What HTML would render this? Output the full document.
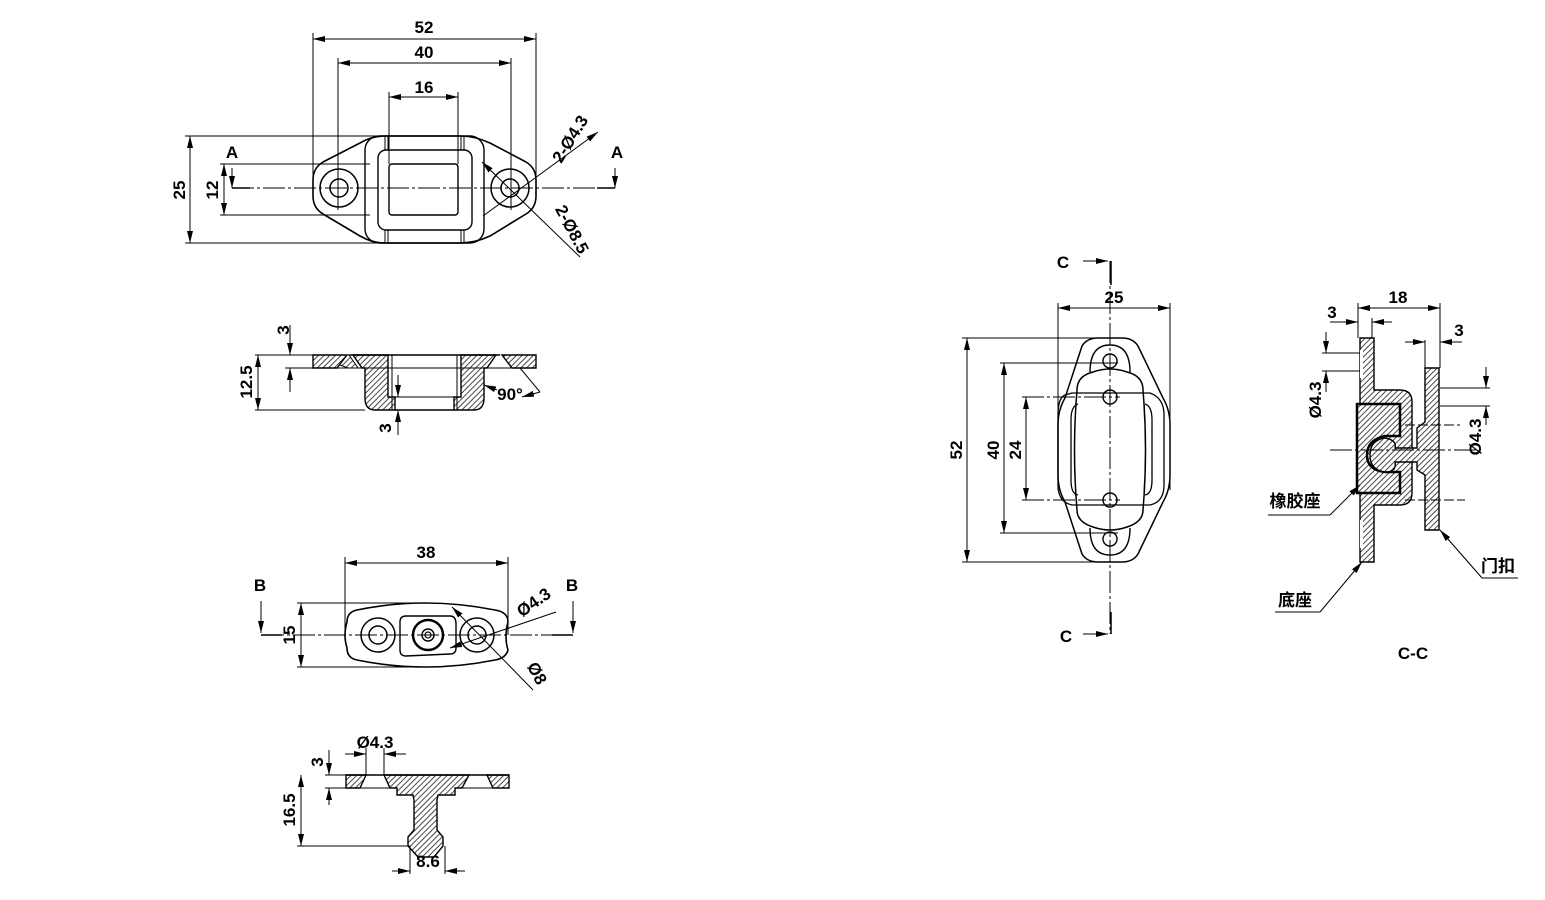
<!DOCTYPE html>
<html><head><meta charset="utf-8"><style>
html,body{margin:0;padding:0;background:#fff;}
svg{display:block}
text{font-family:"Liberation Sans Narrow","Liberation Sans","Noto Sans CJK SC",sans-serif;fill:#000;font-size:17px;font-weight:bold}
.cn{font-family:"Liberation Sans","Noto Sans CJK SC",sans-serif;font-size:17px}
</style></head><body>
<svg width="1545" height="900" viewBox="0 0 1545 900" xmlns="http://www.w3.org/2000/svg">
<defs>
<pattern id="h" width="4" height="4" patternUnits="userSpaceOnUse" patternTransform="rotate(45)">
<rect width="4" height="4" fill="#fff"/><line x1="0" y1="0" x2="0" y2="4" stroke="#333" stroke-width="1.8"/></pattern>
<marker id="a" markerWidth="12" markerHeight="6" refX="12" refY="3" orient="auto-start-reverse" markerUnits="userSpaceOnUse"><path d="M0,0 L12,3 L0,6z" fill="#000"/></marker>
</defs>
<g stroke="#000" fill="none" stroke-width="1">
<!-- ===== View 1 top plan ===== -->
<line x1="313" y1="33" x2="313" y2="188"/><line x1="536" y1="33" x2="536" y2="188"/>
<line x1="313" y1="39" x2="536" y2="39" marker-start="url(#a)" marker-end="url(#a)"/>
<line x1="338" y1="58" x2="338" y2="210"/><line x1="511" y1="58" x2="511" y2="210"/>
<line x1="338" y1="63" x2="511" y2="63" marker-start="url(#a)" marker-end="url(#a)"/>
<line x1="389" y1="92" x2="389" y2="164"/><line x1="458" y1="92" x2="458" y2="164"/>
<line x1="389" y1="97" x2="458" y2="97" marker-start="url(#a)" marker-end="url(#a)"/>
<line x1="185" y1="136" x2="380" y2="136"/><line x1="185" y1="243" x2="380" y2="243"/>
<line x1="190" y1="136" x2="190" y2="243" marker-start="url(#a)" marker-end="url(#a)"/>
<line x1="220" y1="164" x2="370" y2="164"/><line x1="220" y1="215" x2="370" y2="215"/>
<line x1="224" y1="164" x2="224" y2="215" marker-start="url(#a)" marker-end="url(#a)"/>
<path d="M385,136 L460,136 Q475,136 490,143 L526,162 Q536,168 536,180 L536,196 Q536,208 526,214 L490,236 Q475,243 460,243 L385,243 Q372,243 360,236 L323,214 Q313,208 313,196 L313,180 Q313,168 323,162 L360,143 Q372,136 385,136Z" stroke-width="1.6"/>
<rect x="365" y="136" width="119" height="107" rx="14" stroke-width="1.4"/>
<rect x="378" y="150" width="94" height="80" rx="8" stroke-width="1.4"/>
<rect x="389" y="164" width="69" height="51" rx="3" stroke-width="1.4"/>
<line x1="385" y1="136" x2="385" y2="150"/><line x1="388" y1="136" x2="388" y2="150"/>
<line x1="461" y1="136" x2="461" y2="150"/><line x1="464" y1="136" x2="464" y2="150"/>
<line x1="385" y1="230" x2="385" y2="243"/><line x1="388" y1="230" x2="388" y2="243"/>
<line x1="461" y1="230" x2="461" y2="243"/><line x1="464" y1="230" x2="464" y2="243"/>
<circle cx="339" cy="188" r="19" stroke-width="1.5"/><circle cx="339" cy="188" r="9" stroke-width="1.5"/>
<circle cx="510" cy="188" r="19" stroke-width="1.5"/><circle cx="510" cy="188" r="9" stroke-width="1.5"/>
<line x1="232" y1="188" x2="615" y2="188" stroke-dasharray="22,3,3,3"/>
<line x1="232" y1="168" x2="232" y2="188" marker-end="url(#a)"/><line x1="232" y1="188" x2="250" y2="188" stroke-width="1.5"/>
<line x1="615" y1="168" x2="615" y2="188" marker-end="url(#a)"/><line x1="597" y1="188" x2="615" y2="188" stroke-width="1.5"/>
<line x1="483" y1="216" x2="598" y2="132" marker-end="url(#a)"/>
<line x1="482" y1="162" x2="580" y2="257" marker-start="url(#a)"/>
<!-- ===== View 2 section ===== -->
<path d="M313,355 L349,355 L358,368 L348,368 Z" fill="url(#h)"/>
<path d="M313,355 L347,355 L337,368 L313,368 Z" fill="url(#h)" stroke-width="1.4"/>
<path d="M536,355 L502,355 L512,368 L536,368 Z" fill="url(#h)" stroke-width="1.4"/>
<path d="M353,355 L388,355 L388,397 L395,397 L395,410 L375,410 Q365,410 365,398 L365,368 L362,368 Z" fill="url(#h)" stroke-width="1.4"/>
<path d="M496,355 L461,355 L461,397 L454,397 L454,410 L474,410 Q484,410 484,398 L484,368 L487,368 Z" fill="url(#h)" stroke-width="1.4"/>
<line x1="395" y1="397" x2="454" y2="397"/><line x1="395" y1="410" x2="454" y2="410" stroke-width="1.4"/>
<line x1="349" y1="355" x2="500" y2="355" stroke-width="1.4"/>
<line x1="337" y1="368" x2="512" y2="368"/>
<line x1="392" y1="355" x2="392" y2="410"/><line x1="457" y1="355" x2="457" y2="410"/>
<line x1="255" y1="355" x2="313" y2="355"/><line x1="255" y1="410" x2="365" y2="410"/><line x1="285" y1="368" x2="313" y2="368"/>
<line x1="290" y1="325" x2="290" y2="355" marker-end="url(#a)"/><line x1="290" y1="368" x2="290" y2="392" marker-start="url(#a)"/>
<line x1="258" y1="355" x2="258" y2="410" marker-start="url(#a)" marker-end="url(#a)"/>
<line x1="398" y1="375" x2="398" y2="397" marker-end="url(#a)"/><line x1="398" y1="410" x2="398" y2="435" marker-start="url(#a)"/>
<line x1="484" y1="385" x2="497" y2="390" marker-start="url(#a)"/>
<line x1="520" y1="368" x2="540" y2="392"/><line x1="540" y1="392" x2="522" y2="397" marker-end="url(#a)"/>
<!-- ===== View 3 B plan ===== -->
<line x1="345" y1="557" x2="345" y2="635"/><line x1="508" y1="557" x2="508" y2="635"/>
<line x1="345" y1="563" x2="508" y2="563" marker-start="url(#a)" marker-end="url(#a)"/>
<line x1="297" y1="603" x2="420" y2="603"/><line x1="297" y1="667" x2="420" y2="667"/>
<line x1="301" y1="603" x2="301" y2="667" marker-start="url(#a)" marker-end="url(#a)"/>
<path d="M357,610 Q425,596 495,610 Q508,612 508,622 Q504,637 508,650 Q506,658 495,660 Q425,674 357,660 Q347,658 347,648 Q343,635 347,622 Q347,612 357,610Z" stroke-width="1.6"/>
<circle cx="378" cy="635" r="17" stroke-width="1.5"/><circle cx="378" cy="635" r="9" stroke-width="1.5"/>
<circle cx="477" cy="635" r="17" stroke-width="1.5"/><circle cx="477" cy="635" r="9" stroke-width="1.5"/>
<path d="M406,616 L450,616 Q456,616 456,624 L456,648 Q456,654 450,654 L406,656 Q400,656 400,650 L400,622 Q400,616 406,616Z" stroke-width="1.4"/>
<circle cx="428" cy="635" r="15" stroke-width="2.5"/><circle cx="428" cy="635" r="6" stroke-width="1.4"/><circle cx="428" cy="635" r="3" stroke-width="1.2"/>
<line x1="262" y1="635" x2="572" y2="635" stroke-dasharray="22,3,3,3"/>
<line x1="261" y1="601" x2="261" y2="633" marker-end="url(#a)"/><line x1="261" y1="635" x2="282" y2="635" stroke-width="1.5"/>
<line x1="573" y1="601" x2="573" y2="633" marker-end="url(#a)"/><line x1="552" y1="635" x2="573" y2="635" stroke-width="1.5"/>
<line x1="450" y1="648" x2="556" y2="612" marker-start="url(#a)"/>
<line x1="452" y1="607" x2="533" y2="690" marker-start="url(#a)"/>
<!-- ===== View 4 T ===== -->
<path d="M346,775 L366,775 L360,788 L346,788Z" fill="url(#h)" stroke-width="1.4"/>
<path d="M509,775 L487,775 L493,788 L509,788Z" fill="url(#h)" stroke-width="1.4"/>
<path d="M384,775 L469,775 L462,788 L455,788 L455,795 L438,795 L437,800 L437,830 L443,837 L443,846 L434,857 L418,857 L408,846 L408,837 L414,830 L414,800 L413,795 L397,795 L397,788 L390,788 Z" fill="url(#h)" stroke-width="1.4"/>
<line x1="346" y1="775" x2="509" y2="775" stroke-width="1.4"/><line x1="346" y1="788" x2="397" y2="788"/><line x1="455" y1="788" x2="509" y2="788"/>
<line x1="366" y1="775" x2="384" y2="775"/>
<line x1="325" y1="775" x2="346" y2="775"/><line x1="325" y1="788" x2="346" y2="788"/>
<line x1="329" y1="750" x2="329" y2="775" marker-end="url(#a)"/><line x1="329" y1="788" x2="329" y2="805" marker-start="url(#a)"/>
<line x1="297" y1="846" x2="410" y2="846"/>
<line x1="301" y1="775" x2="301" y2="846" marker-start="url(#a)" marker-end="url(#a)"/>
<line x1="366" y1="748" x2="366" y2="775"/><line x1="384" y1="748" x2="384" y2="775"/>
<line x1="345" y1="754" x2="366" y2="754" marker-end="url(#a)"/><line x1="384" y1="754" x2="406" y2="754" marker-start="url(#a)"/>
<line x1="410" y1="846" x2="410" y2="874"/><line x1="445" y1="846" x2="445" y2="874"/>
<line x1="392" y1="871" x2="410" y2="871" marker-end="url(#a)"/><line x1="445" y1="871" x2="465" y2="871" marker-start="url(#a)"/>
<!-- ===== C front view ===== -->
<line x1="1110" y1="261" x2="1110" y2="634" stroke-dasharray="22,3,3,3"/>
<line x1="1083" y1="261" x2="1108" y2="261" marker-end="url(#a)"/><line x1="1111" y1="261" x2="1111" y2="285" stroke-width="1.5"/>
<line x1="1083" y1="634" x2="1108" y2="634" marker-end="url(#a)"/><line x1="1111" y1="612" x2="1111" y2="634" stroke-width="1.5"/>
<line x1="1058" y1="303" x2="1058" y2="490"/><line x1="1170" y1="303" x2="1170" y2="490"/>
<line x1="1058" y1="308" x2="1170" y2="308" marker-start="url(#a)" marker-end="url(#a)"/>
<line x1="962" y1="338" x2="1115" y2="338"/><line x1="962" y1="562" x2="1115" y2="562"/>
<line x1="967" y1="338" x2="967" y2="562" marker-start="url(#a)" marker-end="url(#a)"/>
<line x1="1000" y1="363" x2="1118" y2="363"/><line x1="1000" y1="533" x2="1118" y2="533"/>
<line x1="1004" y1="363" x2="1004" y2="533" marker-start="url(#a)" marker-end="url(#a)"/>
<line x1="1022" y1="397" x2="1120" y2="397" stroke-dasharray="22,3,3,3"/><line x1="1022" y1="500" x2="1120" y2="500" stroke-dasharray="22,3,3,3"/>
<line x1="1026" y1="397" x2="1026" y2="500" marker-start="url(#a)" marker-end="url(#a)"/>
<path d="M1098,338 L1122,338 Q1133,338 1138,346 L1163,398 Q1170,410 1170,425 L1170,475 Q1170,490 1163,502 L1138,554 Q1133,562 1122,562 L1098,562 Q1087,562 1082,554 L1065,502 Q1058,490 1058,475 L1058,425 Q1058,410 1065,398 L1082,346 Q1087,338 1098,338Z" stroke-width="1.5"/>
<path d="M1090,372 Q1090,345 1110,345 Q1130,345 1130,372" stroke-width="1.4"/>
<path d="M1090,528 Q1090,555 1110,555 Q1130,555 1130,528" stroke-width="1.4"/>
<circle cx="1110" cy="361" r="7" stroke-width="1.4"/><circle cx="1110" cy="539" r="7" stroke-width="1.4"/>
<path d="M1065,395 Q1058,398 1058,415 L1058,485 Q1058,502 1072,505 L1150,505 Q1164,502 1164,485 L1164,415 Q1164,398 1150,393 L1072,393 Z" stroke-width="1.3"/>
<path d="M1078,404 Q1071,406 1071,420 L1071,480 Q1071,494 1078,495 M1145,404 Q1152,406 1152,420 L1152,480 Q1152,494 1145,495" stroke-width="1.3"/>
<path d="M1093,372 Q1110,366 1127,372 Q1143,376 1143,390 Q1148,450 1143,510 Q1143,522 1127,527 Q1110,533 1093,527 Q1077,522 1077,510 Q1072,450 1077,390 Q1077,376 1093,372Z" stroke-width="1.5"/>
<circle cx="1110" cy="397" r="7" stroke-width="1.4"/><circle cx="1110" cy="500" r="7" stroke-width="1.4"/>
<!-- ===== C-C section ===== -->
<path d="M1360,338 L1374,338 L1374,390 L1400,390 Q1412,390 1412,402 L1412,493 Q1412,505 1400,505 L1374,505 L1374,562 L1360,562 Z" fill="url(#h)" stroke-width="1.4"/>
<rect x="1360" y="350" width="3" height="28" fill="#fff" stroke="none"/>
<rect x="1360" y="520" width="3" height="28" fill="#fff" stroke="none"/>
<path d="M1357,404 L1400,404 L1400,436 L1385,436 Q1367,440 1367,455 Q1367,470 1385,472 L1400,472 L1400,493 L1357,493 Z" fill="url(#h)" stroke-width="2.5"/>
<path d="M1425,368 L1439,368 L1439,530 L1425,530 L1425,475 L1417,470 L1417,462 L1395,462 Q1397,472 1385,472 Q1370,470 1370,455 Q1370,440 1385,438 Q1397,440 1395,448 L1417,448 L1417,428 L1425,422 Z" fill="url(#h)" stroke-width="1.4"/>
<line x1="1330" y1="450" x2="1480" y2="450" stroke-dasharray="22,3,3,3"/>
<line x1="1405" y1="425" x2="1460" y2="425" stroke-dasharray="10,3"/><line x1="1405" y1="500" x2="1465" y2="500" stroke-dasharray="10,3"/>
<line x1="1358" y1="303" x2="1358" y2="338"/><line x1="1440" y1="303" x2="1440" y2="368"/>
<line x1="1358" y1="308" x2="1440" y2="308" marker-start="url(#a)" marker-end="url(#a)"/>
<line x1="1372" y1="318" x2="1372" y2="338"/>
<line x1="1330" y1="322" x2="1358" y2="322" marker-end="url(#a)"/><line x1="1372" y1="322" x2="1392" y2="322" marker-start="url(#a)"/>
<line x1="1425" y1="340" x2="1425" y2="368"/>
<line x1="1405" y1="342" x2="1425" y2="342" marker-end="url(#a)"/><line x1="1440" y1="342" x2="1462" y2="342" marker-start="url(#a)"/>
<line x1="1322" y1="353" x2="1360" y2="353"/><line x1="1322" y1="371" x2="1360" y2="371"/>
<line x1="1326" y1="332" x2="1326" y2="353" marker-end="url(#a)"/><line x1="1326" y1="371" x2="1326" y2="392" marker-start="url(#a)"/>
<line x1="1440" y1="388" x2="1490" y2="388"/><line x1="1440" y1="406" x2="1490" y2="406"/>
<line x1="1486" y1="367" x2="1486" y2="388" marker-end="url(#a)"/><line x1="1486" y1="406" x2="1486" y2="425" marker-start="url(#a)"/>
<line x1="1360" y1="485" x2="1330" y2="515" marker-start="url(#a)"/><line x1="1268" y1="515" x2="1330" y2="515"/>
<line x1="1362" y1="562" x2="1320" y2="612" marker-start="url(#a)"/><line x1="1275" y1="612" x2="1320" y2="612"/>
<line x1="1440" y1="530" x2="1482" y2="578" marker-start="url(#a)"/><line x1="1482" y1="578" x2="1518" y2="578"/>
</g>
<g>
<text x="424" y="33" text-anchor="middle">52</text>
<text x="424" y="58" text-anchor="middle">40</text>
<text x="424" y="93" text-anchor="middle">16</text>
<text x="232" y="158" text-anchor="middle" font-size="15">A</text>
<text x="617" y="158" text-anchor="middle" font-size="15">A</text>
<text transform="translate(185,190) rotate(-90)" text-anchor="middle">25</text>
<text transform="translate(218,190) rotate(-90)" text-anchor="middle">12</text>
<text transform="translate(575,142) rotate(-58)" text-anchor="middle">2-Ø4.3</text>
<text transform="translate(567,232) rotate(62)" text-anchor="middle">2-Ø8.5</text>
<text transform="translate(289,330) rotate(-90)" text-anchor="middle">3</text>
<text transform="translate(252,382) rotate(-90)" text-anchor="middle">12.5</text>
<text transform="translate(391,428) rotate(-90)" text-anchor="middle">3</text>
<text x="510" y="400" text-anchor="middle">90°</text>
<text x="426" y="558" text-anchor="middle">38</text>
<text x="260" y="591" text-anchor="middle" font-size="15">B</text>
<text x="572" y="591" text-anchor="middle" font-size="15">B</text>
<text transform="translate(295,635) rotate(-90)" text-anchor="middle">15</text>
<text transform="translate(537,607) rotate(-35)" text-anchor="middle">Ø4.3</text>
<text transform="translate(532,676) rotate(62)" text-anchor="middle">Ø8</text>
<text x="375" y="748" text-anchor="middle">Ø4.3</text>
<text transform="translate(323,762) rotate(-90)" text-anchor="middle">3</text>
<text transform="translate(295,810) rotate(-90)" text-anchor="middle">16.5</text>
<text x="428" y="867" text-anchor="middle">8.6</text>
<text x="1063" y="268" text-anchor="middle" font-size="15">C</text>
<text x="1066" y="642" text-anchor="middle" font-size="15">C</text>
<text x="1114" y="303" text-anchor="middle">25</text>
<text transform="translate(962,450) rotate(-90)" text-anchor="middle">52</text>
<text transform="translate(999,450) rotate(-90)" text-anchor="middle">40</text>
<text transform="translate(1021,450) rotate(-90)" text-anchor="middle">24</text>
<text x="1398" y="303" text-anchor="middle">18</text>
<text x="1332" y="318" text-anchor="middle">3</text>
<text x="1459" y="336" text-anchor="middle">3</text>
<text transform="translate(1321,400) rotate(-90)" text-anchor="middle">Ø4.3</text>
<text transform="translate(1481,437) rotate(-90)" text-anchor="middle">Ø4.3</text>
<text class="cn" x="1295" y="507" text-anchor="middle">橡胶座</text>
<text class="cn" x="1295" y="606" text-anchor="middle">底座</text>
<text class="cn" x="1498" y="572" text-anchor="middle">门扣</text>
<text x="1413" y="659" text-anchor="middle">C-C</text>
</g>
</svg>
</body></html>
